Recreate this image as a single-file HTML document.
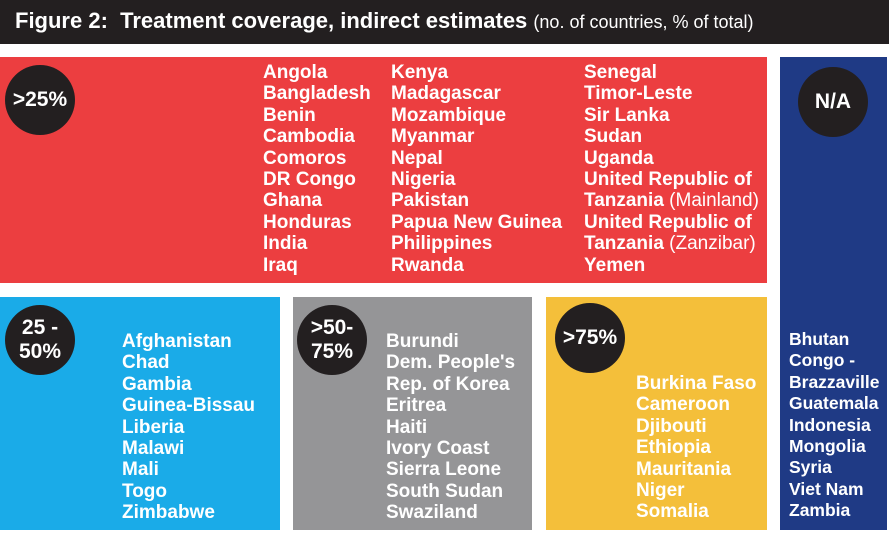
<!DOCTYPE html>
<html><head><meta charset="utf-8"><style>
*{margin:0;padding:0;box-sizing:border-box}
body{width:889px;height:534px;background:#fff;position:relative;overflow:hidden;font-family:"Liberation Sans",sans-serif;}
.b{position:absolute}
.t{position:absolute;color:#fff;font-weight:bold;font-size:19px;line-height:21.4px;white-space:nowrap;letter-spacing:0px}
.t span{font-weight:normal}
.c{position:absolute;width:70px;height:70px;border-radius:50%;background:#231f20;color:#fff;font-weight:bold;font-size:21px;display:flex;align-items:center;justify-content:center;text-align:center;line-height:24px}
</style></head><body>
<div class="b" style="left:0;top:0;width:889px;height:44px;background:#231f20"></div>
<div class="t" style="left:15px;top:8px;font-size:22px;line-height:26px;letter-spacing:0">Figure 2:&nbsp; Treatment coverage, indirect estimates <span style="font-size:18px">(no. of countries, % of total)</span></div>
<div class="b" style="left:0;top:57px;width:767px;height:226px;background:#ec3e40"></div>
<div class="b" style="left:780px;top:57px;width:107px;height:473px;background:#1f3a85"></div>
<div class="b" style="left:0;top:297px;width:280px;height:233px;background:#1aabe8"></div>
<div class="b" style="left:293px;top:297px;width:239px;height:233px;background:#959597"></div>
<div class="b" style="left:546px;top:297px;width:221px;height:233px;background:#f4bf3a"></div>
<div class="c" style="left:5px;top:65px">&gt;25%</div>
<div class="c" style="left:798px;top:67px">N/A</div>
<div class="c" style="left:5px;top:305px">25 -<br>50%</div>
<div class="c" style="left:297px;top:305px">&gt;50-<br>75%</div>
<div class="c" style="left:555px;top:303px">&gt;75%</div>
<div class="t" style="left:263px;top:62px">Angola<br>Bangladesh<br>Benin<br>Cambodia<br>Comoros<br>DR Congo<br>Ghana<br>Honduras<br>India<br>Iraq</div>
<div class="t" style="left:391px;top:62px">Kenya<br>Madagascar<br>Mozambique<br>Myanmar<br>Nepal<br>Nigeria<br>Pakistan<br>Papua New Guinea<br>Philippines<br>Rwanda</div>
<div class="t" style="left:584px;top:62px">Senegal<br>Timor-Leste<br>Sir Lanka<br>Sudan<br>Uganda<br>United Republic of<br>Tanzania <span>(Mainland)</span><br>United Republic of<br>Tanzania <span>(Zanzibar)</span><br>Yemen</div>
<div class="t" style="left:122px;top:331px">Afghanistan<br>Chad<br>Gambia<br>Guinea-Bissau<br>Liberia<br>Malawi<br>Mali<br>Togo<br>Zimbabwe</div>
<div class="t" style="left:386px;top:331px">Burundi<br>Dem. People's<br>Rep. of Korea<br>Eritrea<br>Haiti<br>Ivory Coast<br>Sierra Leone<br>South Sudan<br>Swaziland</div>
<div class="t" style="left:636px;top:373px">Burkina Faso<br>Cameroon<br>Djibouti<br>Ethiopia<br>Mauritania<br>Niger<br>Somalia</div>
<div class="t" style="left:789px;top:329px;font-size:17.5px">Bhutan<br>Congo -<br>Brazzaville<br>Guatemala<br>Indonesia<br>Mongolia<br>Syria<br>Viet Nam<br>Zambia</div>
</body></html>
